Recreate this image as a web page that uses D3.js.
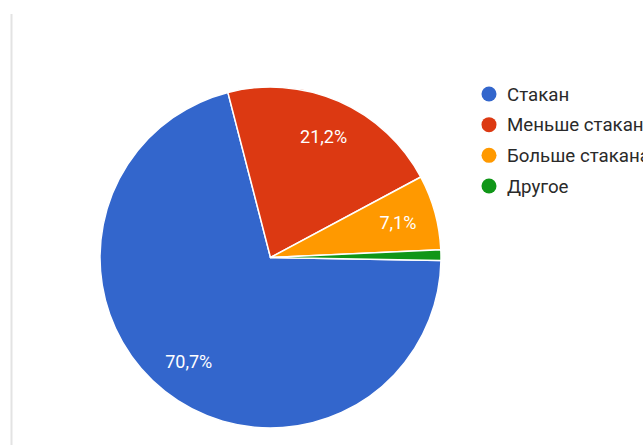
<!DOCTYPE html>
<html>
<head>
<meta charset="utf-8">
<script src="https://cdn.jsdelivr.net/npm/d3@7"></script>
<style>
  html, body { margin: 0; padding: 0; background: #ffffff; overflow: hidden; }
  svg { display: block; }
</style>
</head>
<body>
<svg id="chart" width="643" height="445"></svg>
<script>
// Answer categories and their shares (percent)
const categories = ["Стакан", "Меньше стакана", "Больше стакана", "Другое"];
const values = [70.7, 21.2, 7.1, 1.0];
const colors = ["#3366cc", "#dc3912", "#ff9900", "#109618"];
const valueLabels = ["70,7%", "21,2%", "7,1%", ""];

const W = 643, H = 445;
const cx = 270.5, cy = 257.5, radius = 170.5;
const svg = d3.select("#chart");

// card edge on the left
svg.append("line")
  .attr("x1", 11.5).attr("x2", 11.5)
  .attr("y1", 14).attr("y2", H)
  .attr("stroke", "#e3e3e3").attr("stroke-width", 2);

const data = categories.map((c, i) => ({ name: c, value: values[i], color: colors[i], label: valueLabels[i] }));

const startDeg = 91;
const pie = d3.pie()
  .value(d => d.value)
  .sort(null)
  .startAngle(startDeg * Math.PI / 180)
  .endAngle((startDeg + 360) * Math.PI / 180);

const arc = d3.arc().innerRadius(0).outerRadius(radius);
const labelArc = d3.arc().innerRadius(radius * 0.775).outerRadius(radius * 0.775);

const g = svg.append("g").attr("transform", `translate(${cx},${cy})`);
const arcs = pie(data);

g.selectAll("path.slice")
  .data(arcs)
  .join("path")
  .attr("class", "slice")
  .attr("d", arc)
  .attr("fill", d => d.data.color)
  .attr("stroke", "#ffffff")
  .attr("stroke-width", 1.5)
  .attr("stroke-linejoin", "round");

g.selectAll("text.pct")
  .data(arcs.filter(d => d.data.label))
  .join("text")
  .attr("class", "pct")
  .attr("transform", d => `translate(${labelArc.centroid(d)})`)
  .attr("text-anchor", "middle")
  .attr("dy", "0.36em")
  .attr("fill", "#ffffff")
  .attr("font-family", "Roboto, Arial, sans-serif")
  .attr("font-size", 18)
  .text(d => d.data.label);

// legend
const legendY = d3.scalePoint().domain(categories).range([94, 186]);
const legend = svg.append("g");
const items = legend.selectAll("g.item")
  .data(data)
  .join("g")
  .attr("class", "item")
  .attr("transform", d => `translate(489,${legendY(d.name)})`);

items.append("circle")
  .attr("r", 7.5)
  .attr("fill", d => d.color);

items.append("text")
  .attr("x", 18)
  .attr("dy", "0.36em")
  .attr("fill", "#2a2a2a")
  .attr("font-family", "Roboto, Arial, sans-serif")
  .attr("font-size", 18.7)
  .text(d => d.name);
</script>
</body>
</html>
